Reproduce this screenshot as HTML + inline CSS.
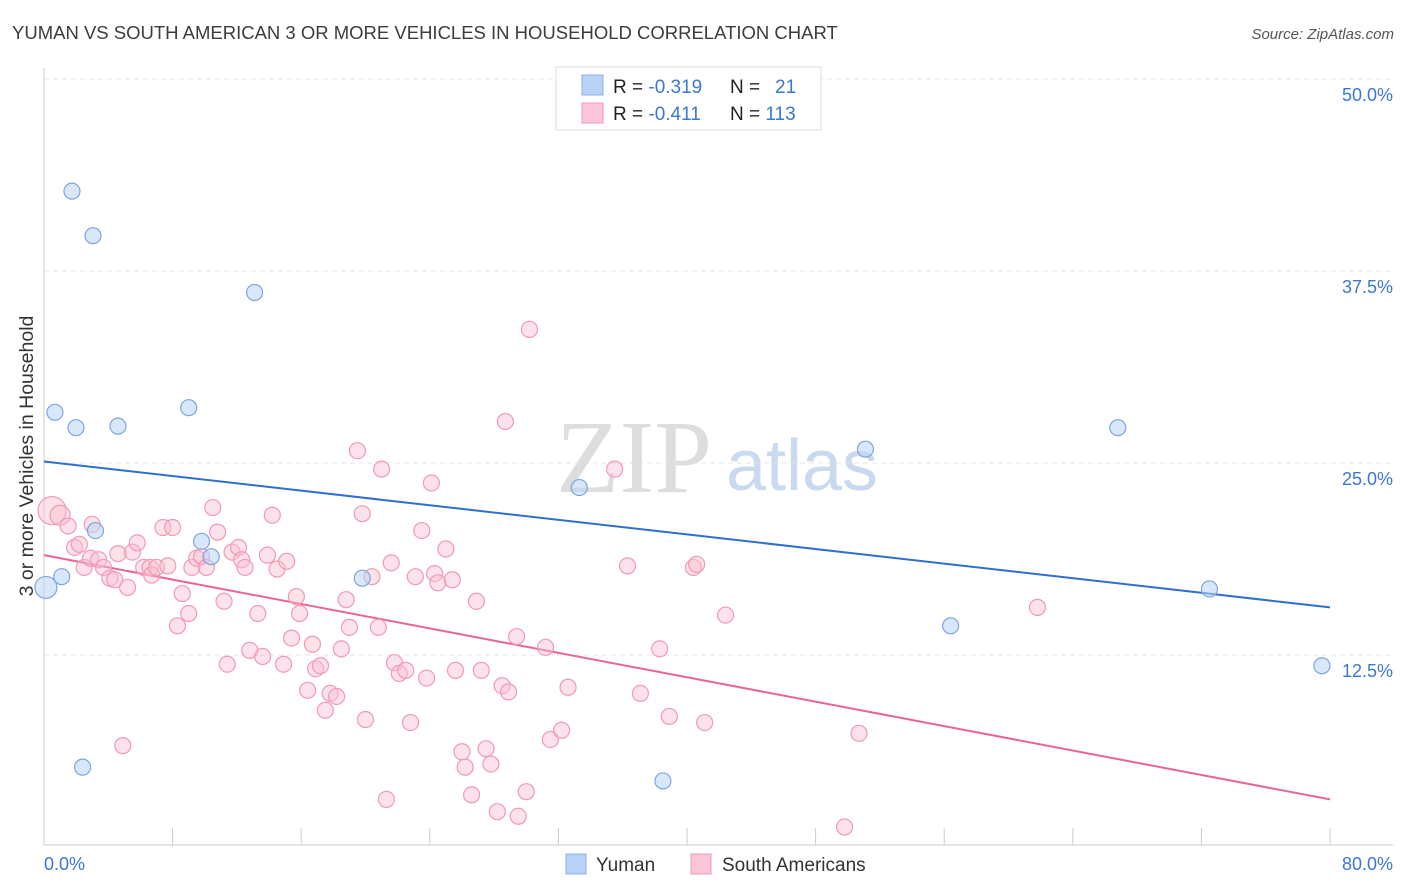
<!DOCTYPE html>
<html><head><meta charset="utf-8"><style>
body{margin:0;background:#fff;font-family:"Liberation Sans",sans-serif;}
svg{display:block}
</style></head><body>
<svg id="chart" width="1406" height="892">
<text x="12" y="39" font-size="18.5" fill="#3c3c3c">YUMAN VS SOUTH AMERICAN 3 OR MORE VEHICLES IN HOUSEHOLD CORRELATION CHART</text>
<text x="1394" y="39" font-size="15" fill="#555" font-style="italic" text-anchor="end">Source: ZipAtlas.com</text>
<text x="33" y="456" font-size="19.5" fill="#333" text-anchor="middle" transform="rotate(-90 33 456)">3 or more Vehicles in Household</text>
<g>
<text x="634" y="492" font-size="104" fill="#ddd" font-family="Liberation Serif,serif" text-anchor="middle">ZIP</text>
<text x="802" y="490" font-size="72" fill="#c9d9ef" text-anchor="middle">atlas</text>
</g>
<g id="grid"></g><g id="axes"></g><g id="lines"></g><g id="pts"></g>
<g>
<rect x="556" y="67" width="265" height="63" fill="#fff" stroke="#ddd"/>
<rect x="582" y="75" width="21" height="20" fill="#b8d3f5" stroke="#8cb2e8"/>
<rect x="582" y="103" width="21" height="20" fill="#fcc6d6" stroke="#f09ab4"/>
<text x="613" y="93" font-size="19" fill="#222">R = <tspan fill="#3a78d4">-0.319</tspan></text>
<text x="730" y="93" font-size="19" fill="#222">N = <tspan fill="#3a78d4" x="775">21</tspan></text>
<text x="613" y="120" font-size="19" fill="#222">R =  <tspan fill="#3a78d4">-0.411</tspan></text>
<text x="730" y="120" font-size="19" fill="#222">N = <tspan fill="#3a78d4">113</tspan></text>
</g>
<g>
<rect x="566" y="854" width="20" height="20" fill="#b8d3f5" stroke="#8cb2e8"/>
<text x="596" y="871" font-size="19" fill="#333">Yuman</text>
<rect x="691" y="854" width="20" height="20" fill="#fcc6d6" stroke="#f09ab4"/>
<text x="722" y="871" font-size="19" fill="#333">South Americans</text>
</g>
</svg>
<script>
const yTicks=[12.5,25,37.5,50];
const yTickLabels=["12.5%","25.0%","37.5%","50.0%"];
const blueX=[1.74,3.05,13.1,0.68,1.99,4.6,9.0,3.2,9.8,10.4,1.1,0.12,2.4,19.8,33.3,51.1,38.5,56.4,66.8,72.5,79.5];
const blueY=[42.7,39.8,36.1,28.3,27.3,27.4,28.6,20.6,19.9,18.9,17.6,16.9,5.2,17.5,23.4,25.9,4.3,14.4,27.3,16.8,11.8];
const pinkX=[0.5,1.0,1.5,3.0,1.9,2.2,2.5,2.9,3.4,3.7,4.1,4.4,4.6,5.2,5.5,5.8,6.2,6.6,6.7,7.0,7.4,7.7,8.0,8.3,8.6,9.0,9.2,9.5,9.8,10.1,10.5,10.8,11.2,11.4,11.7,12.1,12.3,12.5,12.8,13.3,13.6,13.9,14.2,14.5,14.9,15.1,15.4,15.7,15.9,16.4,16.7,16.9,17.2,17.5,17.8,18.2,18.5,18.8,19.0,19.5,19.8,20.0,20.4,20.8,21.0,21.3,21.6,21.8,22.1,22.5,22.8,23.1,23.5,23.8,24.1,24.3,24.5,25.0,25.4,25.6,26.0,26.2,26.6,26.9,27.2,27.5,27.8,28.2,28.5,28.7,28.9,29.4,29.5,30.0,30.2,31.2,31.5,32.2,32.6,35.5,36.3,37.1,38.3,38.9,40.4,40.6,41.1,42.4,49.8,50.7,61.8,4.9];
const pinkY=[21.9,21.6,20.9,21.0,19.5,19.7,18.2,18.8,18.7,18.2,17.5,17.4,19.1,16.9,19.2,19.8,18.2,18.2,17.7,18.2,20.8,18.3,20.8,14.4,16.5,15.2,18.2,18.8,18.9,18.2,22.1,20.5,16.0,11.9,19.2,19.5,18.7,18.2,12.8,15.2,12.4,19.0,21.6,18.1,11.9,18.6,13.6,16.3,15.2,10.2,13.2,11.6,11.8,8.9,10.0,9.8,12.9,16.1,14.3,25.8,21.7,8.3,17.6,14.3,24.6,3.1,18.5,12.0,11.3,11.5,8.1,17.6,20.6,11.0,23.7,17.8,17.2,19.4,17.4,11.5,6.2,5.2,3.4,16.0,11.5,6.4,5.4,2.3,10.5,27.7,10.1,13.7,2.0,3.6,33.7,13.0,7.0,7.6,10.4,24.6,18.3,10.0,12.9,8.5,18.2,18.4,8.1,15.1,1.3,7.4,15.6,6.6];
const blueTrend=[25.1,15.6];
const pinkTrend=[19.0,3.1];
const xs=v=>44+v*16.075, ys=v=>847-v*15.36;
const NS="http://www.w3.org/2000/svg";
function mk(p,t,a){const e=document.createElementNS(NS,t);for(const k in a)e.setAttribute(k,a[k]);p.appendChild(e);return e;}
const grid=document.getElementById('grid'),axes=document.getElementById('axes');
yTicks.forEach((t,i)=>{
 const g=mk(grid,'line',{x1:44,x2:1393,y1:ys(t),y2:ys(t),stroke:'#e4e4e4','stroke-dasharray':'5,4'});
 
 
 const l=mk(grid,'text',{x:1393,y:ys(t)+22,'font-size':18,fill:'#3a78d4','text-anchor':'end'});
 l.textContent=yTickLabels[i];
 
 
});
mk(axes,'line',{x1:44,x2:44,y1:68,y2:845,stroke:'#ccc'});
mk(axes,'line',{x1:44,x2:1393,y1:845,y2:845,stroke:'#ccc'});
for(let i=0;i<=10;i++){const t=mk(axes,'line',{x1:xs(i*8),x2:xs(i*8),y1:828,y2:845,stroke:'#ccc'});
 
 }
const x0=mk(axes,'text',{x:44,y:870,'font-size':18,fill:'#3a78d4'});x0.textContent='0.0%';


const x1=mk(axes,'text',{x:1393,y:870,'font-size':18,fill:'#3a78d4','text-anchor':'end'});x1.textContent='80.0%';


const pts=document.getElementById('pts');
pinkX.forEach((x,i)=>{const c=mk(pts,'circle',{cx:xs(x),cy:ys(pinkY[i]),r:i<2?(i==0?14:10):8,fill:'rgba(250,190,208,0.45)',stroke:'#f09ab4','stroke-width':1.2});
 
 });
blueX.forEach((x,i)=>{const c=mk(pts,'circle',{cx:xs(x),cy:ys(blueY[i]),r:i==11?11:8,fill:'rgba(184,211,245,0.55)',stroke:'#7ea6de','stroke-width':1.2});
 
 });
const lines=document.getElementById('lines');
const bl=mk(lines,'line',{x1:xs(0),x2:xs(80),y1:ys(blueTrend[0]),y2:ys(blueTrend[1]),stroke:'#2f6fd0','stroke-width':2});


const pl=mk(lines,'line',{x1:xs(0),x2:xs(80),y1:ys(pinkTrend[0]),y2:ys(pinkTrend[1]),stroke:'#ea6596','stroke-width':2});


</script>
</body></html>
